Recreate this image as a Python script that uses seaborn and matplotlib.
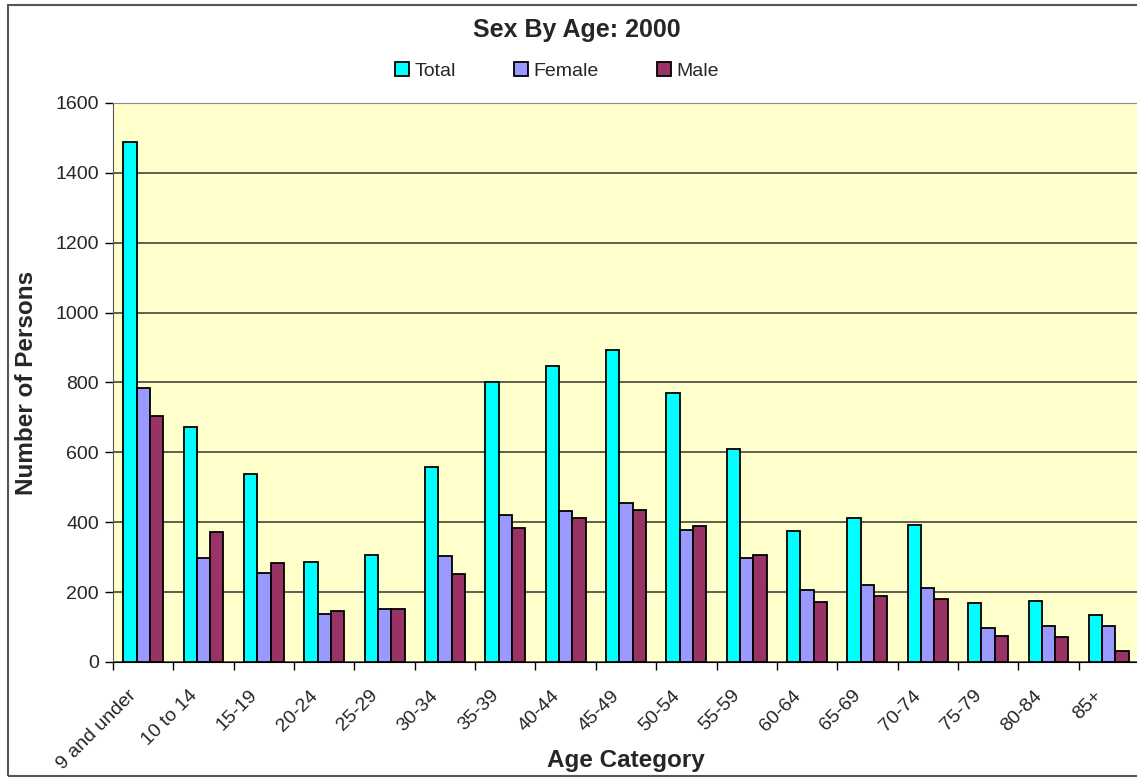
import pandas as pd
import matplotlib.pyplot as plt
import seaborn as sns
from matplotlib.patches import Rectangle

# Valores
categorias = ['9 and under', '10 to 14', '15-19', '20-24', '25-29', '30-34', '35-39',
              '40-44', '45-49', '50-54', '55-59', '60-64', '65-69', '70-74', '75-79',
              '80-84', '85+']
total = [1488, 673, 538, 287, 306, 557, 802, 846, 894, 769, 611, 376, 411, 392, 170, 175, 134]
female = [783, 297, 254, 137, 151, 303, 421, 431, 456, 379, 299, 207, 219, 213, 98, 103, 102]
male = [705, 373, 284, 147, 151, 252, 383, 413, 434, 390, 307, 171, 190, 179, 73, 72, 31]
series = ['Total', 'Female', 'Male']
cores = ['#00FFFF', '#9999FF', '#993366']

df = pd.DataFrame({'Age Category': categorias, 'Total': total, 'Female': female, 'Male': male})
df = df.melt(id_vars='Age Category', var_name='Serie', value_name='Number of Persons')

sns.set_style('white')
plt.rcParams['font.family'] = ['Liberation Sans', 'DejaVu Sans']

fig = plt.figure(figsize=(11.37, 7.78), dpi=100)
ax = fig.add_axes([113/1137, 1 - 662/778, 1026/1137, 559/778])
ax.set_facecolor('#FFFFCC')

sns.barplot(data=df, x='Age Category', y='Number of Persons', hue='Serie',
            hue_order=series, palette=cores, saturation=1, width=0.66, gap=0,
            edgecolor='black', linewidth=1.3, ax=ax, zorder=3)

ax.set_ylim(0, 1600)
ax.set_xlim(-0.5, len(categorias) - 0.5)
ax.set_yticks(range(0, 1601, 200))
ax.yaxis.grid(True, color='#333333', linewidth=1.1, zorder=0)
ax.set_axisbelow(True)

# ticks do eixo x nas fronteiras das categorias, rótulos um pouco à esquerda do centro
ax.set_xticks([i - 0.5 for i in range(len(categorias) + 1)], minor=False)
ax.set_xticklabels([])
ax.set_xticks([i - 0.25 for i in range(len(categorias))], minor=True)
ax.set_xticklabels(categorias, minor=True, rotation=45, ha='right',
                   rotation_mode='anchor', fontsize=14)
ax.tick_params(axis='x', which='minor', length=0, pad=18)
ax.tick_params(axis='x', which='major', length=6, width=1, color='black', direction='out')
ax.tick_params(axis='y', length=6, width=1, color='black', direction='out', labelsize=14, pad=4)
ax.tick_params(bottom=True, left=True)

for lado in ['top', 'right']:
    ax.spines[lado].set_color('#888888')
ax.spines['left'].set_color('#555555')
ax.spines['bottom'].set_color('black')

ax.set_xlabel('Age Category', fontsize=17.5, fontweight='bold')
ax.set_ylabel('Number of Persons', fontsize=17.5, fontweight='bold')
ax.xaxis.set_label_coords(0.5, -0.155)
ax.yaxis.set_label_coords(-0.073, 0.5)

handles, labels = ax.get_legend_handles_labels()
ax.legend_.remove()
fig.legend(handles, labels, loc='center', bbox_to_anchor=(0.49, 1 - 71/778), ncol=3,
           frameon=False, fontsize=14, handlelength=0.7, handleheight=0.7,
           handletextpad=0.3, columnspacing=3.0)

fig.text(0.507, 1 - 30/778, 'Sex By Age: 2000', ha='center', va='center',
         fontsize=18, fontweight='bold')

# borda externa do gráfico
fig.patches.append(Rectangle((8/1137, 2/778), 1.1, 1 - 7/778, transform=fig.transFigure,
                             fill=False, edgecolor='#555555', linewidth=1.5))

fig.savefig('out.png', dpi=100)
